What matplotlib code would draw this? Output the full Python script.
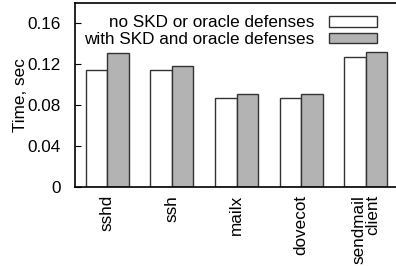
import matplotlib
matplotlib.use('Agg')
import matplotlib.pyplot as plt
import numpy as np

programs = ['sshd', 'ssh', 'mailx', 'dovecot', 'sendmail\nclient']
no_skd = [0.114, 0.114, 0.087, 0.087, 0.1265]
with_skd = [0.131, 0.1178, 0.0905, 0.0905, 0.1318]
labels = ['no SKD or oracle defenses', 'with SKD and oracle defenses']
yticks = [0, 0.04, 0.08, 0.12, 0.16]
ytick_labels = ['0', '0.04', '0.08', '0.12', '0.16']

plt.rcParams['font.family'] = ['Liberation Sans', 'DejaVu Sans']
plt.rcParams['font.size'] = 12.3

fig = plt.figure(figsize=(3.96, 2.66), dpi=100)
ax = fig.add_axes([0.1894, 0.298, 0.816, 0.692])

x = np.arange(len(programs))
w = 1.0 / 3
ax.bar(x - w / 2, no_skd, w, color='white', edgecolor='#333333', linewidth=1.0, label=labels[0])
ax.bar(x + w / 2, with_skd, w, color='#b3b3b3', edgecolor='#333333', linewidth=1.0, label=labels[1])

ax.set_xlim(-0.5, len(programs) - 0.5)
ax.set_ylim(0, 0.18)
ax.set_yticks(yticks)
ax.set_yticklabels(ytick_labels)
ax.set_xticks(x)
ax.set_xticklabels(programs, rotation=90, va='top', ha='center', multialignment='right',
                   linespacing=0.95)
ax.tick_params(axis='x', length=0, pad=6)
ax.tick_params(axis='y', direction='in', length=4, pad=10)
ax.set_ylabel('Time, sec', labelpad=0)
for s in ax.spines.values():
    s.set_linewidth(1.2)

ax.legend(loc='upper right', bbox_to_anchor=(0.973, 1.0), frameon=False, markerfirst=False,
          handlelength=2.8, handleheight=0.55, handletextpad=0.85, labelspacing=0.1,
          borderaxespad=0.35)

fig.savefig('out.png', dpi=100)
